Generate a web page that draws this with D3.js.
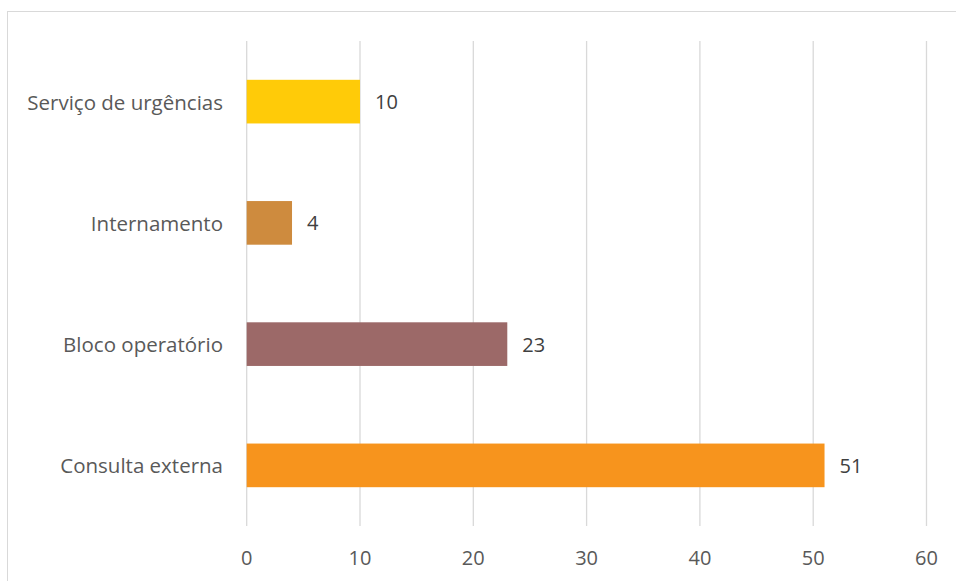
<!DOCTYPE html>
<html>
<head>
<meta charset="utf-8">
<script src="https://cdn.jsdelivr.net/npm/d3@7"></script>
<style>
html,body{margin:0;padding:0;background:#fff;}
svg{display:block;}
</style>
</head>
<body>
<svg id="chart" width="956" height="581"></svg>
<script>
const categories = ["Serviço de urgências", "Internamento", "Bloco operatório", "Consulta externa"];
const values = [10, 4, 23, 51];
const colors = ["#FFCB08", "#CE8B3E", "#9C6968", "#F7941D"];
const tickValues = [0, 10, 20, 30, 40, 50, 60];

(function () {
const svg = d3.select("#chart");
const font = "'Open Sans', sans-serif";
const fs = 20.5;
const fsNum = 20;

// chart border (extends beyond the visible area on right/bottom)
svg.append("rect")
  .attr("x", 7.5).attr("y", 11.5)
  .attr("width", 1000).attr("height", 1000)
  .attr("fill", "none").attr("stroke", "#D9D9D9").attr("stroke-width", 1);

const pl = 246.7, pr = 926.5, pt = 41, pb = 526;

const x = d3.scaleLinear().domain([0, 60]).range([pl, pr]);
const y = d3.scaleBand().domain(categories).range([pt, pb])
  .paddingInner(0.64).paddingOuter(0.32);

// gridlines
svg.append("g").selectAll("line").data(tickValues).join("line")
  .attr("x1", d => x(d)).attr("x2", d => x(d))
  .attr("y1", pt).attr("y2", pb)
  .attr("stroke", "#D9D9D9").attr("stroke-width", 1.3);

// x tick labels
svg.append("g").selectAll("text").data(tickValues).join("text")
  .attr("x", d => x(d)).attr("y", 557)
  .attr("text-anchor", "middle").attr("dominant-baseline", "central")
  .attr("font-family", font).attr("font-size", fsNum)
  .attr("fill", "#595959").text(d => d);

// bars
svg.append("g").selectAll("rect").data(categories).join("rect")
  .attr("x", x(0)).attr("y", d => y(d))
  .attr("width", (d, i) => x(values[i]) - x(0))
  .attr("height", y.bandwidth())
  .attr("fill", (d, i) => colors[i]);

// category labels
svg.append("g").selectAll("text").data(categories).join("text")
  .attr("x", 223).attr("y", d => y(d) + y.bandwidth() / 2)
  .attr("text-anchor", "end").attr("dominant-baseline", "central")
  .attr("font-family", font).attr("font-size", fs)
  .attr("fill", "#595959").text(d => d);

// value labels
svg.append("g").selectAll("text").data(categories).join("text")
  .attr("x", (d, i) => x(values[i]) + 15).attr("y", d => y(d) + y.bandwidth() / 2)
  .attr("text-anchor", "start").attr("dominant-baseline", "central")
  .attr("font-family", font).attr("font-size", fsNum)
  .attr("fill", "#404040").text((d, i) => values[i]);
})();
</script>
</body>
</html>
